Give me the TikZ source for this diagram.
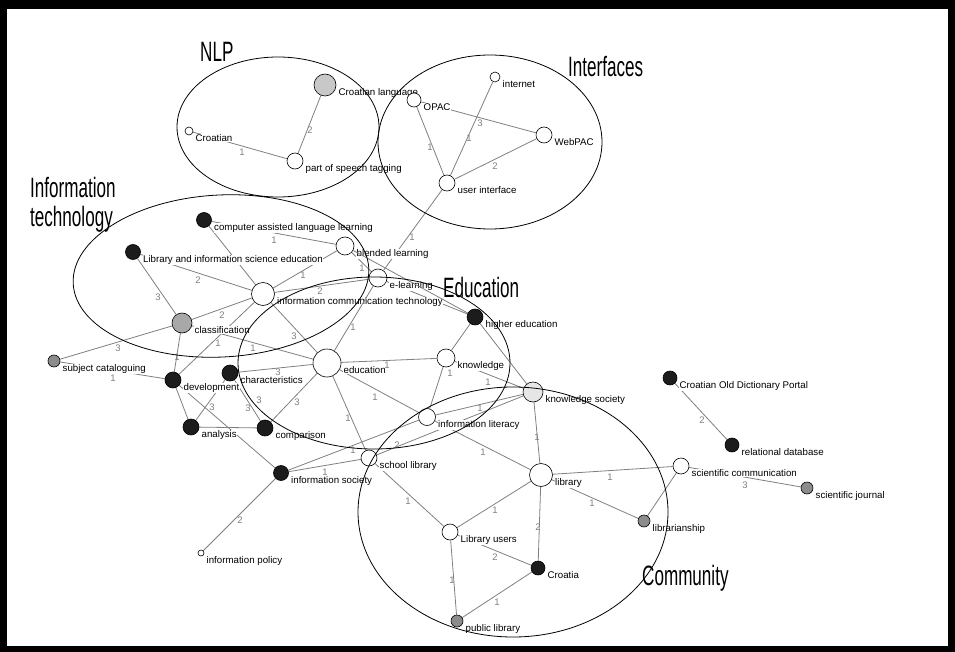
\documentclass[tikz,border=0pt]{standalone}
\usepackage{fontspec}
\setmainfont{Liberation Sans}
\newfontfamily\titlefont[FakeStretch=0.61]{Liberation Sans}
\definecolor{edgegray}{HTML}{808080}
\definecolor{nblack}{HTML}{1C1C1C}
\definecolor{mgray}{HTML}{8C8C8C}
\definecolor{cgray}{HTML}{A8A8A8}
\definecolor{lgray}{HTML}{C8C8C8}
\definecolor{ksgray}{HTML}{E6E6E6}
\pgfdeclarelayer{framelayer}
\pgfdeclarelayer{edgelayer}
\pgfsetlayers{framelayer,edgelayer,main}
\tikzset{
  vert/.style={circle,draw=black,line width=0.6pt,inner sep=0pt},
  wn/.style={fill=white},
  bn/.style={fill=nblack},
  mn/.style={fill=mgray},
  cn/.style={fill=cgray},
  ln/.style={fill=lgray},
  kn/.style={fill=ksgray},
  lab/.style={font=\fontsize{9.7}{11}\selectfont,inner sep=0.5pt,fill=white,anchor=mid west},
  wt/.style={font=\fontsize{9.5}{11}\selectfont,text=edgegray,inner sep=0pt},
  edge/.style={draw=edgegray,line width=0.8pt},
  grp/.style={draw=black,line width=0.8pt},
  ttl/.style={font=\titlefont\fontsize{28}{30}\selectfont,anchor=base west,inner sep=0pt}
}
\newcommand\vtx[6]{%
  \node[vert,#5,minimum size=#4pt] (#1) at (#2,#3) {};%
  \pgfmathsetmacro\vlx{#2+#4/2+2}%
  \pgfmathsetmacro\vly{#3+8}%
  \node[lab] (#1-l) at (\vlx,\vly) {#6};%
}
\begin{document}
\begin{tikzpicture}[x=1pt,y=-1pt]
\useasboundingbox (0,0) rectangle (955,652);
\begin{pgfonlayer}{framelayer}
\fill[black] (0,0) rectangle (955,652);
\fill[white] (7,9) rectangle (948,646);
\end{pgfonlayer}

% vertices
\vtx{cro}{189}{131}{8}{wn}{Croatian}
\vtx{pos}{295}{161}{16}{wn}{part of speech tagging}
\vtx{crolang}{325}{85}{22}{ln}{Croatian language}
\vtx{internet}{495}{77}{10}{wn}{internet}
\vtx{webpac}{544}{135}{16}{wn}{WebPAC}
\vtx{ui}{447}{183}{16}{wn}{user interface}
\vtx{opac}{414}{100}{14}{wn}{OPAC}
\vtx{cal}{204}{220}{15}{bn}{computer assisted language learning}
\vtx{lise}{133}{252}{15}{bn}{Library and information science education}
\vtx{blended}{345}{246}{18}{wn}{blended learning}
\vtx{ict}{263}{294}{23}{wn}{information communication technology}
\vtx{elearn}{378}{278}{18}{wn}{e-learning}
\vtx{class}{182}{323}{20}{cn}{classification}
\vtx{subj}{54}{361}{12}{mn}{subject cataloguing}
\vtx{devel}{173}{380}{16}{bn}{development}
\vtx{char}{230}{373}{16}{bn}{characteristics}
\vtx{edu}{327}{363}{28}{wn}{education}
\vtx{analysis}{191}{427}{16}{bn}{analysis}
\vtx{comp}{265}{428}{16}{bn}{comparison}
\vtx{he}{475}{317}{16}{bn}{higher education}
\vtx{know}{446}{358}{18}{wn}{knowledge}
\vtx{ks}{533}{392}{20}{kn}{knowledge society}
\vtx{infolit}{427}{417}{17}{wn}{information literacy}
\vtx{school}{369}{458}{16}{wn}{school library}
\vtx{infosoc}{281}{473}{15}{bn}{information society}
\vtx{policy}{201}{553}{6}{wn}{information policy}
\vtx{library}{541}{475}{23}{wn}{library}
\vtx{scicomm}{681}{466}{16}{wn}{scientific communication}
\vtx{scij}{807}{488}{12}{mn}{scientific journal}
\vtx{libship}{644}{521}{12}{mn}{librarianship}
\vtx{libusers}{450}{532}{16}{wn}{Library users}
\vtx{croatia}{538}{568}{14}{bn}{Croatia}
\vtx{publib}{457}{621}{12}{mn}{public library}
\vtx{codp}{670}{378}{14}{bn}{Croatian Old Dictionary Portal}
\vtx{reldb}{732}{445}{14}{bn}{relational database}

% edges under labels
\begin{pgfonlayer}{edgelayer}
\draw[edge] (cro) -- (pos);
\draw[edge] (crolang) -- (pos);
\draw[edge] (opac) -- (webpac);
\draw[edge] (opac) -- (ui);
\draw[edge] (internet) -- (ui);
\draw[edge] (webpac) -- (ui);
\draw[edge] (ui) -- (elearn);
\draw[edge] (cal) -- (blended);
\draw[edge] (cal) -- (ict);
\draw[edge] (lise) -- (ict);
\draw[edge] (lise) -- (class);
\draw[edge] (ict) -- (class);
\draw[edge] (ict) -- (blended);
\draw[edge] (ict) -- (elearn);
\draw[edge] (ict) -- (edu);
\draw[edge] (blended) -- (elearn);
\draw[edge] (ict) -- (devel);
\draw[edge] (class) -- (subj);
\draw[edge] (class) -- (devel);
\draw[edge] (class) -- (edu);
\draw[edge] (subj) -- (devel);
\draw[edge] (char) -- (edu);
\draw[edge] (devel) -- (analysis);
\draw[edge] (analysis) -- (char);
\draw[edge] (char) -- (comp);
\draw[edge] (analysis) -- (comp);
\draw[edge] (comp) -- (edu);
\draw[edge] (edu) -- (know);
\draw[edge] (edu) -- (infolit);
\draw[edge] (edu) -- (school);
\draw[edge] (infolit) -- (know);
\draw[edge] (know) -- (he);
\draw[edge] (know) -- (ks);
\draw[edge] (infolit) -- (ks);
\draw[edge] (he) -- (ks);
\draw[edge] (elearn) -- (he);
\draw[edge] (devel) -- (infosoc);
\draw[edge] (infosoc) -- (infolit);
\draw[edge] (school) -- (ks);
\draw[edge] (infosoc) -- (school);
\draw[edge] (infosoc) -- (policy);
\draw[edge] (infolit) -- (library);
\draw[edge] (ks) -- (library);
\draw[edge] (library) -- (scicomm);
\draw[edge] (library) -- (libship);
\draw[edge] (scicomm) -- (libship);
\draw[edge] (scicomm) -- (scij);
\draw[edge] (codp) -- (reldb);
\draw[edge] (school) -- (libusers);
\draw[edge] (library) -- (libusers);
\draw[edge] (library) -- (croatia);
\draw[edge] (libusers) -- (croatia);
\draw[edge] (libusers) -- (publib);
\draw[edge] (croatia) -- (publib);
\end{pgfonlayer}

% edges drawn over labels
\draw[edge] (edu) -- (elearn);
\draw[edge] (blended) -- (he);

% edge weights
\node[wt] (w1) at (242,152) {1};
\node[wt] (w2) at (310,130) {2};
\node[wt] (w3) at (480,123) {3};
\node[wt] (w4) at (430,147) {1};
\node[wt] (w5) at (469,138) {1};
\node[wt] (w6) at (495,166) {2};
\node[wt] (w7) at (412,237) {1};
\node[wt] (w8) at (274,240) {1};
\node[wt] (w9) at (198,280) {2};
\node[wt] (w10) at (158,297) {3};
\node[wt] (w11) at (222,315) {2};
\node[wt] (w12) at (303,275) {1};
\node[wt] (w13) at (320,291) {2};
\node[wt] (w14) at (294,336) {3};
\node[wt] (w15) at (362,268) {1};
\node[wt] (w16) at (218,343) {1};
\node[wt] (w17) at (118,348) {3};
\node[wt] (w18) at (177,357) {1};
\node[wt] (w19) at (253,348) {1};
\node[wt] (w20) at (113,378) {1};
\node[wt] (w21) at (278,372) {3};
\node[wt] (w22) at (212,407) {3};
\node[wt] (w23) at (259,400) {3};
\node[wt] (w24) at (248,408) {3};
\node[wt] (w25) at (297,402) {3};
\node[wt] (w26) at (353,327) {1};
\node[wt] (w27) at (387,365) {1};
\node[wt] (w28) at (375,397) {1};
\node[wt] (w29) at (348,418) {1};
\node[wt] (w30) at (450,373) {1};
\node[wt] (w31) at (488,382) {1};
\node[wt] (w32) at (480,408) {1};
\node[wt] (w33) at (353,450) {1};
\node[wt] (w34) at (397,445) {2};
\node[wt] (w35) at (325,472) {1};
\node[wt] (w36) at (240,520) {2};
\node[wt] (w37) at (483,452) {1};
\node[wt] (w38) at (537,437) {1};
\node[wt] (w39) at (610,477) {1};
\node[wt] (w40) at (592,503) {1};
\node[wt] (w41) at (745,485) {3};
\node[wt] (w42) at (702,420) {2};
\node[wt] (w43) at (408,501) {1};
\node[wt] (w44) at (495,510) {1};
\node[wt] (w45) at (538,527) {2};
\node[wt] (w46) at (495,557) {2};
\node[wt] (w47) at (452,580) {1};
\node[wt] (w48) at (497,602) {1};

% group titles
\node[ttl] (tnlp) at (200,62) {NLP};
\node[ttl] (tint) at (568,77) {Interfaces};
\node[ttl] (tit1) at (30,198) {Information};
\node[ttl] (tit2) at (30,227) {technology};
\node[ttl] (tedu) at (443,297) {Education};
\node[ttl] (tcom) at (642,585) {Community};

% group ellipses
\draw[grp] (278,127) ellipse [x radius=101pt, y radius=70pt];
\draw[grp] (490,142) ellipse [x radius=112pt, y radius=87pt];
\draw[grp,rotate around={3:(221,276)}] (221,276) ellipse [x radius=148pt, y radius=81pt];
\draw[grp] (374,363) ellipse [x radius=136pt, y radius=86pt];
\draw[grp] (513,512) ellipse [x radius=155pt, y radius=125pt];
\end{tikzpicture}
\end{document}
